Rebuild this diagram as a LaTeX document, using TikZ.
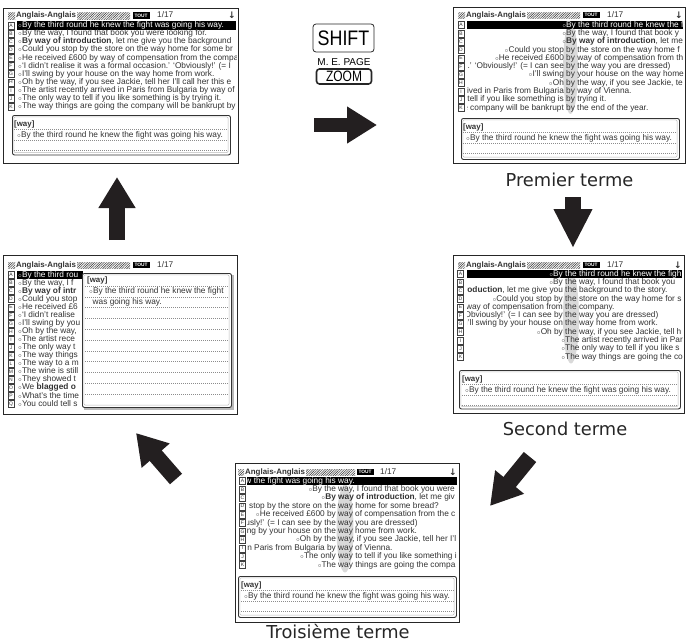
\documentclass[tikz,border=0pt]{standalone}
\usepackage{fontspec}
\usepackage{tikz}
\usetikzlibrary{arrows.meta, patterns.meta}
\newfontfamily\lcd{Liberation Sans}
\newfontfamily\lbl{DejaVu Sans}
\definecolor{ink}{HTML}{231F20}
\definecolor{lcdtext}{HTML}{333333}
\newcommand\bl{$\scriptstyle\circ$}

\begin{document}
\begin{tikzpicture}[x=1pt, y=-1pt]
\tikzstyle{screen} = [rectangle, draw=black!85, line width=1.2pt, fill=white, anchor=north west, inner sep=0pt]
\tikzstyle{panel} = [rectangle, rounded corners=2pt, draw=black!80, line width=0.9pt, fill=white, anchor=north west, inner sep=0pt]
\tikzstyle{inner} = [gray!55, line width=0.5pt, rounded corners=1.5pt]
\tikzstyle{letter} = [rectangle, draw=black!75, line width=0.4pt, minimum width=6pt, minimum height=7pt, inner sep=0pt, font=\lcd\fontsize{5}{5}\selectfont, text=black!80]
\tikzstyle{row} = [anchor=west, inner sep=0pt, text height=6pt, text depth=1.7pt, font=\lcd\fontsize{8.3}{8.3}\selectfont, text=lcdtext]
\tikzstyle{ttl} = [row, font=\lcd\bfseries\fontsize{7.9}{7.9}\selectfont]
\tikzstyle{tout} = [rectangle, fill=black, text=white, minimum width=17pt, minimum height=6.5pt, inner sep=0pt, font=\lcd\bfseries\fontsize{4.8}{4.8}\selectfont]
\tikzstyle{down} = [inner sep=0pt, font=\lbl\bfseries\fontsize{9}{9}\selectfont, text=lcdtext]
\tikzstyle{hatch} = [pattern={Lines[angle=45, distance=1.7pt, line width=0.6pt]}, pattern color=black!70]
\tikzstyle{ruleline} = [black!45, line width=0.4pt, dash pattern=on 1pt off 1pt]
\tikzstyle{hilite} = [fill=gray!30]
\tikzstyle{btn} = [rectangle, rounded corners=3pt, draw=black!85, line width=0.8pt, inner sep=0pt]
\tikzstyle{bigarrow} = [draw=ink, line width=16pt, -{Triangle[length=31pt, width=35pt]}]
\tikzstyle{caption} = [anchor=base, inner sep=0pt, font=\lbl\fontsize{17.8}{17.8}\selectfont, text=black!85]

\useasboundingbox (0,0) rectangle (686,643);

% screen 1 (top left)
\node (scr1) [screen, minimum width=235pt, minimum height=155pt] at (3,8) {};
\begin{scope}[shift={(3,8)}]
\fill[hatch] (5,4.5) rectangle (12,11);
\node (ttl1) [ttl] at (13,7.5) {Anglais-Anglais};
\fill[hatch] (74,4.5) rectangle (127,11);
\node (tout1) [tout] at (138,7.5) {TOUT};
\node (pg1) [row] at (154,7.5) {1/17};
\node (dn1) [down] at (229,7.5) {↓};
\foreach \lt [count=\i from 0] in {A,B,C,D,E,F,G,H,I,J,K}
  \node (s1\lt) [letter] at (8,17.5+8.1*\i) {\lt};
\fill[black] (14,13.3) rectangle (233,21.7);
\begin{scope}
\clip (14,12) rectangle (233,103);
\foreach \txt [count=\i from 0] in {
  {\color{white}\bl By the third round he knew the fight was going his way.},
  {\bl By the way, I found that book you were looking for.},
  {\bl\textbf{By way of introduction}, let me give you the background},
  {\bl Could you stop by the store on the way home for some br},
  {\bl He received £600 by way of compensation from the compa},
  {\bl ‘I didn’t realise it was a formal occasion.’ ‘Obviously!’ (= I},
  {\bl I’ll swing by your house on the way home from work.},
  {\bl Oh by the way, if you see Jackie, tell her I’ll call her this e},
  {\bl The artist recently arrived in Paris from Bulgaria by way of},
  {\bl The only way to tell if you like something is by trying it.},
  {\bl The way things are going the company will be bankrupt by}}
  \node (s1r\i) [row] at (15,17.5+8.1*\i) {\txt};
\end{scope}
\node (p1) [panel, minimum width=218pt, minimum height=39.5pt] at (9,107) {};
\draw[inner] (10.8,108.8) rectangle (225.2,144.7);
\node (p1w) [ttl] at (11,116) {[way]};
\foreach \y in {121,132.5,142.5} \draw[ruleline] (11,\y) -- (225,\y);
\node (p1t) [row] at (14,127.5) {\bl By the third round he knew the fight was going his way.};
\end{scope}

% screen 2 (top right, "by")
\node (scr2) [screen, minimum width=232pt, minimum height=156pt] at (453,7) {};
\begin{scope}[shift={(453,7)}]
\fill[hatch] (5,5) rectangle (12,11.5);
\node (ttl2) [ttl] at (13,8) {Anglais-Anglais};
\fill[hatch] (74,5) rectangle (127,11.5);
\node (tout2) [tout] at (138,8) {TOUT};
\node (pg2) [row] at (154,8) {1/17};
\node (dn2) [down] at (226,8) {↓};
\foreach \lt [count=\i from 0] in {A,B,C,D,E,F,G,H,I,J,K}
  \node (s2\lt) [letter] at (8,18+8.3*\i) {\lt};
\fill[hilite] (117.5,61) ellipse [x radius=7.5, y radius=46];
\fill[black] (14,13.8) rectangle (230,22.2);
\begin{scope}
\clip (14,12.5) rectangle (230,106);
\foreach \txt [count=\i from 0] in {
  {\color{white}\llap{\bl}By the third round he knew the f},
  {\llap{\bl}By the way, I found that book y},
  {\llap{\bl}\textbf{By way of introduction}, let me},
  {\llap{\bl Could you stop }by the store on the way home f},
  {\llap{\bl He received £600 }by way of compensation from th},
  {\llap{.’ ‘Obviously!’ (= I can see }by the way you are dressed)},
  {\llap{\bl I’ll swing }by your house on the way home},
  {\llap{\bl Oh }by the way, if you see Jackie, te},
  {\llap{rrived in Paris from Bulgaria }by way of Vienna.},
  {\llap{tell if you like something is }by trying it.},
  {\llap{e company will be bankrupt }by the end of the year.}}
  \node (s2r\i) [row] at (113,18+8.3*\i) {\txt};
\end{scope}
\node (p2) [panel, minimum width=218pt, minimum height=41pt] at (8,111) {};
\draw[inner] (9.8,112.8) rectangle (224.2,150.2);
\node (p2w) [ttl] at (10,120) {[way]};
\foreach \y in {125,136.5,146.5} \draw[ruleline] (10,\y) -- (224,\y);
\node (p2t) [row] at (13,131.5) {\bl By the third round he knew the fight was going his way.};
\end{scope}

% screen 3 (middle left, popup)
\node (scr3) [screen, minimum width=234pt, minimum height=159pt] at (3,255) {};
\begin{scope}[shift={(3,255)}]
\fill[hatch] (5,7) rectangle (12,13.5);
\node (ttl3) [ttl] at (13,10) {Anglais-Anglais};
\fill[hatch] (74,7) rectangle (127,13.5);
\node (tout3) [tout] at (138,10) {TOUT};
\node (pg3) [row] at (154,10) {1/17};
\foreach \lt [count=\i from 0] in {A,B,C,D,E,F,G,H,I,J,K,L,M,N,O,P,Q}
  \node (s3\lt) [letter] at (8,20+8.06*\i) {\lt};
\fill[black] (14,15.8) rectangle (80,24.2);
\begin{scope}
\clip (14,14) rectangle (80,156);
\foreach \txt [count=\i from 0] in {
  {\color{white}\bl By the third rou},
  {\bl By the way, I f},
  {\bl\textbf{By way of intr}},
  {\bl Could you stop},
  {\bl He received £6},
  {\bl ‘I didn’t realise},
  {\bl I’ll swing by you},
  {\bl Oh by the way,},
  {\bl The artist rece},
  {\bl The only way t},
  {\bl The way things},
  {\bl The way to a m},
  {\bl The wine is still},
  {\bl They showed t},
  {\bl We \textbf{blagged o}},
  {\bl What’s the time},
  {\bl You could tell s}}
  \node (s3r\i) [row] at (15,20+8.06*\i) {\txt};
\end{scope}
\fill[gray!55] (81,20) rectangle (230.5,154.5);
\node (pop) [panel, minimum width=149pt, minimum height=134pt] at (79,18) {};
\draw[inner] (80.8,19.8) rectangle (226.2,150.2);
\node (popw) [ttl] at (84,25) {[way]};
\foreach \k in {0,...,10} \draw[ruleline] (82,31+10.8*\k) -- (225,31+10.8*\k);
\node (popt1) [row] at (86,36.5) {\bl By the third round he knew the fight};
\node (popt2) [row] at (89.5,47) {was going his way.};
\end{scope}

% screen 4 (middle right, "the")
\node (scr4) [screen, minimum width=231pt, minimum height=158pt] at (453,255) {};
\begin{scope}[shift={(453,255)}]
\fill[hatch] (5,7) rectangle (12,13.5);
\node (ttl4) [ttl] at (13,10) {Anglais-Anglais};
\fill[hatch] (74,7) rectangle (127,13.5);
\node (tout4) [tout] at (138,10) {TOUT};
\node (pg4) [row] at (154,10) {1/17};
\node (dn4) [down] at (225,10) {↓};
\foreach \lt [count=\i from 0] in {A,B,C,D,E,F,G,H,I,J,K}
  \node (s4\lt) [letter] at (7.5,19+8.3*\i) {\lt};
\fill[hilite] (118,62.5) ellipse [x radius=8, y radius=46];
\fill[black] (14,14.8) rectangle (229,23.2);
\begin{scope}
\clip (14,13.5) rectangle (229,107);
\foreach \txt [count=\i from 0] in {
  {\color{white}\llap{\bl By }the third round he knew the figh},
  {\llap{\bl By }the way, I found that book you},
  {\llap{\textbf{roduction}, let me give you }the background to the story.},
  {\llap{\bl Could you stop by }the store on the way home for s},
  {\llap{way of compensation from }the company.},
  {\llap{Obviously!’ (= I can see by }the way you are dressed)},
  {\llap{\bl I’ll swing by your house on }the way home from work.},
  {\llap{\bl Oh by }the way, if you see Jackie, tell h},
  {\llap{\bl}The artist recently arrived in Pari},
  {\llap{\bl}The only way to tell if you like s},
  {\llap{\bl}The way things are going the co}}
  \node (s4r\i) [row] at (112,19+8.3*\i) {\txt};
\end{scope}
\node (p4) [panel, minimum width=221pt, minimum height=38.5pt] at (6,115) {};
\draw[inner] (7.8,116.8) rectangle (225.2,151.7);
\node (p4w) [ttl] at (9,124) {[way]};
\foreach \y in {129,140,150} \draw[ruleline] (9,\y) -- (225,\y);
\node (p4t) [row] at (12,135) {\bl By the third round he knew the fight was going his way.};
\end{scope}

% screen 5 (bottom, "way")
\node (scr5) [screen, minimum width=224pt, minimum height=159pt] at (235,463) {};
\begin{scope}[shift={(235,463)}]
\fill[hatch] (3,6) rectangle (9,12.5);
\node (ttl5) [ttl] at (10,9) {Anglais-Anglais};
\fill[hatch] (71,6) rectangle (120,12.5);
\node (tout5) [tout] at (130,9) {TOUT};
\node (pg5) [row] at (145,9) {1/17};
\node (dn5) [down] at (218,9) {↓};
\foreach \lt [count=\i from 0] in {A,B,C,D,E,F,G,H,I,J,K}
  \node (s5\lt) [letter] at (7.5,18+8.4*\i) {\lt};
\fill[hilite] (110,65.5) ellipse [x radius=8.5, y radius=44];
\fill[black] (12,13.8) rectangle (222,22.2);
\begin{scope}
\clip (12,12.5) rectangle (222,107);
\foreach \txt [count=\i from 0] in {
  {\color{white}\llap{w the fight was going his }way.},
  {\llap{\bl By the }way, I found that book you were},
  {\llap{\bl\textbf{By }}\textbf{way of introduction}, let me giv},
  {\llap{stop by the store on the }way home for some bread?},
  {\llap{\bl He received £600 by }way of compensation from the c},
  {\llap{usly!’ (= I can see by the }way you are dressed)},
  {\llap{ing by your house on the }way home from work.},
  {\llap{\bl Oh by the }way, if you see Jackie, tell her I’l},
  {\llap{d in Paris from Bulgaria by }way of Vienna.},
  {\llap{\bl The only }way to tell if you like something i},
  {\llap{\bl The }way things are going the compa}}
  \node (s5r\i) [row] at (103,18+8.4*\i) {\txt};
\end{scope}
\node (p5) [panel, minimum width=218pt, minimum height=41pt] at (3,113) {};
\draw[inner] (4.8,114.8) rectangle (219.2,152.2);
\node (p5w) [ttl] at (6,122) {[way]};
\foreach \y in {127,138.5,148.5} \draw[ruleline] (6,\y) -- (219,\y);
\node (p5t) [row] at (9,133.5) {\bl By the third round he knew the fight was going his way.};
\end{scope}

% keys
\node (shiftkey) [btn, minimum width=61pt, minimum height=28pt, font=\lcd\fontsize{21}{21}\selectfont] at (343.5,38) {\scalebox{0.85}[1]{SHIFT}};
\node (mepage) [inner sep=0pt, font=\lcd\fontsize{10}{10}\selectfont] at (344,62.5) {M. E. PAGE};
\node (zoomkey) [btn, line width=1.6pt, minimum width=55pt, minimum height=15pt, font=\lcd\fontsize{15}{15}\selectfont] at (344,76.5) {\scalebox{0.8}[1]{ZOOM}};

% captions
\node (cap1) [caption] at (569.5,186) {Premier terme};
\node (cap2) [caption] at (565,435) {Second terme};
\node (cap3) [caption] at (338,638.5) {Troisième terme};

% block arrows
\coordinate (rA) at (314,125);
\coordinate (rB) at (377,125);
\coordinate (dA) at (573,197);
\coordinate (dB) at (573,248);
\coordinate (wA) at (530,457);
\coordinate (wB) at (490,506);
\coordinate (nA) at (176,479);
\coordinate (nB) at (136,433);
\coordinate (uA) at (117,240);
\coordinate (uB) at (117,177);
\draw [bigarrow, line width=14pt, -{Triangle[length=30pt, width=35pt]}] (rA) -- (rB);
\draw [bigarrow, -{Triangle[length=39pt, width=36pt]}] (dA) -- (dB);
\draw [bigarrow] (wA) -- (wB);
\draw [bigarrow, -{Triangle[length=30pt, width=35pt]}] (nA) -- (nB);
\draw [bigarrow] (uA) -- (uB);
\end{tikzpicture}
\end{document}
